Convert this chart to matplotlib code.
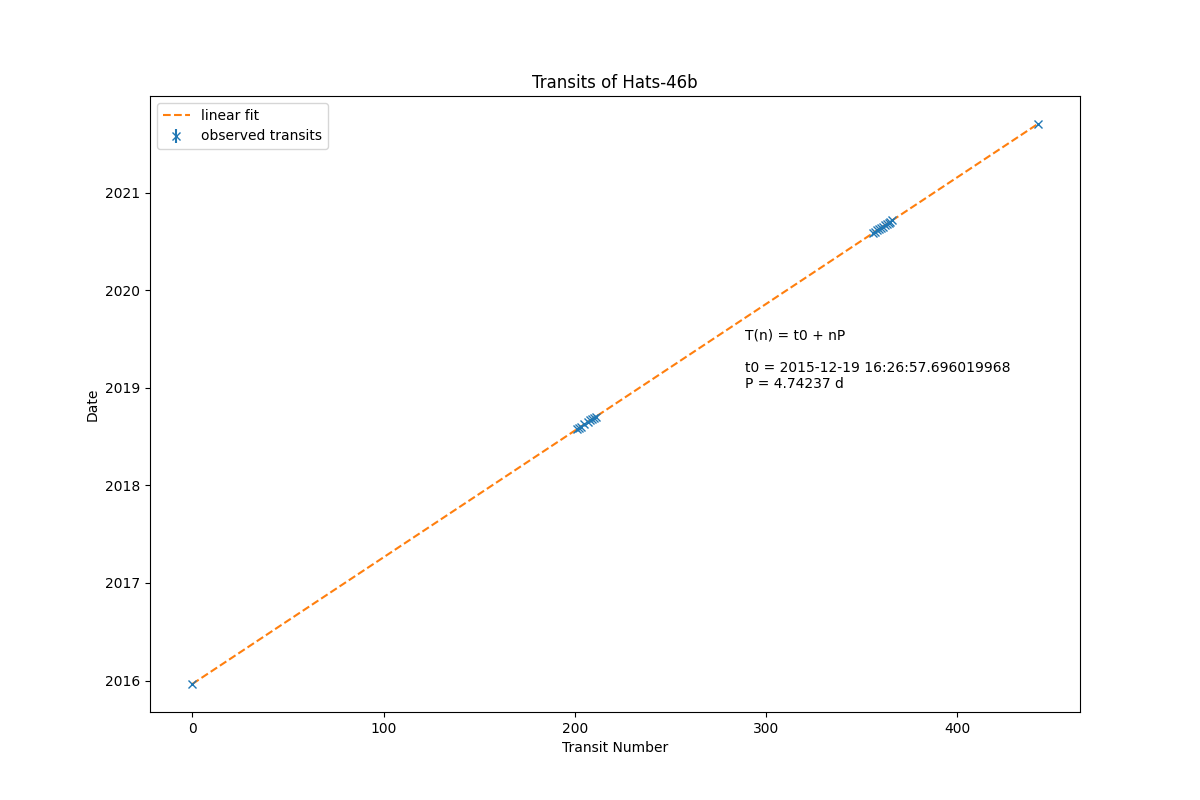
import numpy as np
import matplotlib
matplotlib.use('Agg')
import matplotlib.pyplot as plt
import matplotlib.dates as mdates
from datetime import datetime, timedelta

t0 = datetime(2015, 12, 19, 16, 26, 57, 696020)
P = 4.74237  # days

transit_numbers = [0, 201, 202, 203, 205, 207, 208, 209, 210, 211,
                   356, 357, 358, 359, 360, 361, 362, 363, 364, 365, 366, 442]
# offsets from the fit in minutes (small scatter)
offsets_min = [0, 3, -2, 1, -4, 2, 0, -3, 4, 1,
               -2, 3, 1, -1, 2, -3, 0, 4, -2, 1, -1, 0]
errors_min = [2, 3, 3, 3, 3, 3, 3, 3, 3, 3,
              3, 3, 3, 3, 3, 3, 3, 3, 3, 3, 3, 2]

dates = [t0 + timedelta(days=n * P, minutes=o) for n, o in zip(transit_numbers, offsets_min)]
yerr = [e / 1440 for e in errors_min]

n_fit = np.array([0, 442])
fit_dates = [t0 + timedelta(days=int(n) * P) for n in n_fit]

fig, ax = plt.subplots(figsize=(12, 8), dpi=100)
ax.errorbar(transit_numbers, mdates.date2num(dates), yerr=yerr, fmt='x', ls='none',
            label='observed transits')
ax.plot(n_fit, mdates.date2num(fit_dates), '--', color='tab:orange', label='linear fit')
ax.yaxis.set_major_locator(mdates.YearLocator())
ax.yaxis.set_major_formatter(mdates.DateFormatter('%Y'))
ax.set_xlabel('Transit Number')
ax.set_ylabel('Date')
ax.set_title('Transits of Hats-46b')
ax.text(289, mdates.date2num(datetime(2019, 1, 1)),
        'T(n) = t0 + nP\n\nt0 = 2015-12-19 16:26:57.696019968\nP = 4.74237 d')
ax.legend(loc='upper left')
fig.savefig('out.png')
